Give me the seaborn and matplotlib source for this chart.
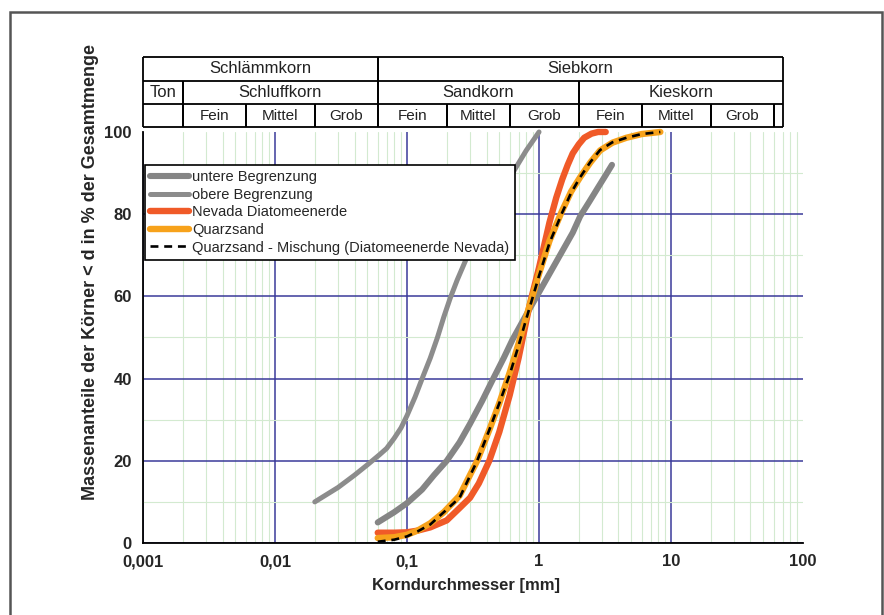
import numpy as np
import pandas as pd
import seaborn as sns
import matplotlib.pyplot as plt
from matplotlib.ticker import LogLocator, NullFormatter
from matplotlib.patches import Rectangle

# Kornverteilungen: Korndurchmesser [mm] und Durchgang [%]
d_untere = [0.06, 0.08, 0.1, 0.13, 0.16, 0.2, 0.25, 0.3, 0.37, 0.45, 0.54, 0.63, 0.8, 1.0,
            1.25, 1.5, 1.8, 2.05, 2.4, 2.8, 3.2, 3.57]
p_untere = [5, 7.5, 9.7, 13, 16.5, 20, 24.5, 29, 34.5, 40, 45, 49.5, 55.5, 61,
            66.5, 71, 75.5, 79.5, 83, 86.5, 89.5, 92]

d_obere = [0.02, 0.03, 0.04, 0.05, 0.062, 0.07, 0.08, 0.09, 0.1, 0.115, 0.132, 0.15, 0.17,
           0.19, 0.212, 0.24, 0.28, 0.33, 0.4, 0.5, 0.63, 0.8, 1.0]
p_obere = [10, 13.5, 16.5, 19, 21.5, 23, 25.5, 28, 31, 35.5, 40.5, 45, 50,
           55, 59.5, 64, 69, 73.5, 78.5, 84, 90, 95.5, 100]

d_nevada = [0.06, 0.08, 0.1, 0.12, 0.15, 0.2, 0.25, 0.3, 0.35, 0.42, 0.5, 0.6, 0.7, 0.85,
            1.0, 1.2, 1.35, 1.5, 1.65, 1.8, 2.0, 2.2, 2.5, 2.8, 3.2]
p_nevada = [2.5, 2.5, 2.6, 3.0, 3.8, 5.5, 8.5, 11, 14.5, 20, 27, 36, 45, 58,
            67, 78, 84, 88.5, 92, 94.8, 97, 98.6, 99.6, 100, 100]

d_quarz = [0.06, 0.08, 0.1, 0.12, 0.15, 0.19, 0.25, 0.34, 0.42, 0.5, 0.6, 0.7, 0.8, 0.9,
           1.0, 1.2, 1.48, 1.75, 2.05, 2.45, 2.9, 3.6, 4.6, 6.0, 8.3]
p_quarz = [1.2, 1.4, 2.0, 3.0, 4.8, 7.5, 11.5, 20, 27.5, 34, 41.5, 48.5, 55, 60.5,
           65.5, 73.5, 80.5, 85.5, 89, 92.6, 95.5, 97.4, 98.6, 99.5, 100]

d_mischung = [0.06, 0.08, 0.1, 0.12, 0.15, 0.19, 0.25, 0.34, 0.42, 0.5, 0.6, 0.7, 0.8, 0.9,
              1.0, 1.2, 1.48, 1.75, 2.05, 2.45, 2.9, 3.6, 4.6, 6.0, 8.3]
p_mischung = [0.3, 0.8, 1.6, 2.8, 4.5, 7.5, 11, 20, 27.5, 34, 41, 48, 54.5, 60,
              65, 73, 80, 85.2, 89, 92.7, 95.6, 97.5, 98.6, 99.5, 100]

# Achsen
x_ticks = [0.001, 0.01, 0.1, 1, 10, 100]
x_labels = ['0,001', '0,01', '0,1', '1', '10', '100']
y_ticks = [0, 20, 40, 60, 80, 100]

# Kornklassen-Tabelle (Grenzen in mm)
tab_ende = 70
reihe1 = [(0.001, 0.06, 'Schlämmkorn'), (0.06, tab_ende, 'Siebkorn')]
reihe2 = [(0.001, 0.002, 'Ton'), (0.002, 0.06, 'Schluffkorn'), (0.06, 2, 'Sandkorn'), (2, tab_ende, 'Kieskorn')]
reihe3 = [(0.001, 0.002, ''), (0.002, 0.006, 'Fein'), (0.006, 0.02, 'Mittel'), (0.02, 0.06, 'Grob'),
          (0.06, 0.2, 'Fein'), (0.2, 0.6, 'Mittel'), (0.6, 2, 'Grob'),
          (2, 6, 'Fein'), (6, 20, 'Mittel'), (20, 60, 'Grob'), (60, tab_ende, '')]

sns.set_style('white')
plt.rcParams['font.family'] = ['Liberation Sans', 'DejaVu Sans']

fig = plt.figure(figsize=(8.84, 6.15), dpi=100)
ax = fig.add_axes([0.1618, 0.1171, 0.7466, 0.6683])
ax.set_xscale('log')

# Kurven
sns.lineplot(x=d_untere, y=p_untere, ax=ax, color='#858585', lw=4.4, label='untere Begrenzung', clip_on=False)
sns.lineplot(x=d_obere, y=p_obere, ax=ax, color='#8c8c8c', lw=3.6, label='obere Begrenzung', clip_on=False)
sns.lineplot(x=d_nevada, y=p_nevada, ax=ax, color='#f05a28', lw=4.6, label='Nevada Diatomeenerde', clip_on=False)
sns.lineplot(x=d_quarz, y=p_quarz, ax=ax, color='#f7a21b', lw=4.6, label='Quarzsand', clip_on=False)
sns.lineplot(x=d_mischung, y=p_mischung, ax=ax, color='black', lw=1.9, dashes=(3, 2.2),
             label='Quarzsand - Mischung (Diatomeenerde Nevada)', clip_on=False)

ax.set_xlim(0.001, 100)
ax.set_ylim(0, 100)
ax.set_xticks(x_ticks, labels=x_labels, fontsize=12, fontweight='bold')
ax.xaxis.set_minor_locator(LogLocator(base=10, subs=range(2, 10), numticks=20))
ax.xaxis.set_minor_formatter(NullFormatter())
ax.set_yticks(y_ticks, labels=[str(v) for v in y_ticks], fontsize=12, fontweight='bold')
ax.set_yticks([10, 30, 50, 70, 90], minor=True)

ax.grid(which='major', color='#3a3a9a', lw=1.1)
ax.grid(which='minor', color='#d3ead0', lw=0.8)
ax.set_axisbelow(True)
for gl in [ax.yaxis.get_gridlines()[-1], ax.xaxis.get_gridlines()[-1]]:
    gl.set_visible(False)

sns.despine(ax=ax)
for s in ['left', 'bottom']:
    ax.spines[s].set_color('black')
    ax.spines[s].set_linewidth(1.3)
ax.tick_params(which='major', direction='out', length=5, width=1.2, color='black', pad=3)
ax.tick_params(which='minor', direction='out', length=3, width=1.0, color='black')

ax.set_xlabel('Korndurchmesser [mm]', fontsize=12, fontweight='bold')
ax.set_ylabel('Massenanteile der Körner < d in % der Gesamtmenge', fontsize=13, fontweight='bold')
ax.xaxis.set_label_coords(0.49, -0.085)
ax.yaxis.set_label_coords(-0.066, 0.66)

leg = ax.legend(loc='upper left', bbox_to_anchor=(0.003, 0.92), borderaxespad=0, frameon=True,
                fancybox=False, edgecolor='black', framealpha=1, fontsize=10.5,
                handlelength=2.7, handletextpad=0.2, labelspacing=0.25, borderpad=0.35)
leg.get_frame().set_linewidth(1.2)

# Tabelle oberhalb des Diagramms
tr = ax.get_xaxis_transform()
zeilen = [1.1825, 1.124, 1.068, 1.012]
for y in zeilen:
    ax.hlines(y, 0.001, tab_ende, transform=tr, color='black', lw=1.3, clip_on=False)
for i, reihe in enumerate([reihe1, reihe2, reihe3]):
    y0, y1 = zeilen[i + 1], zeilen[i]
    fs = 11 if i == 2 else 12
    for a, b, txt in reihe:
        ax.vlines([a, b], y0, y1, transform=tr, color='black', lw=1.3, clip_on=False)
        if txt:
            ax.text(np.sqrt(a * b), (y0 + y1) / 2, txt, transform=tr, ha='center', va='center',
                    fontsize=fs, color='#222222')

# Rahmen um die Abbildung
fig.add_artist(Rectangle((10 / 884, -0.02), 872 / 884, 1.0 - 12 / 615 + 0.02,
                         transform=fig.transFigure, fill=False, edgecolor='#555555', lw=1.8))

fig.savefig('out.png', dpi=100)
